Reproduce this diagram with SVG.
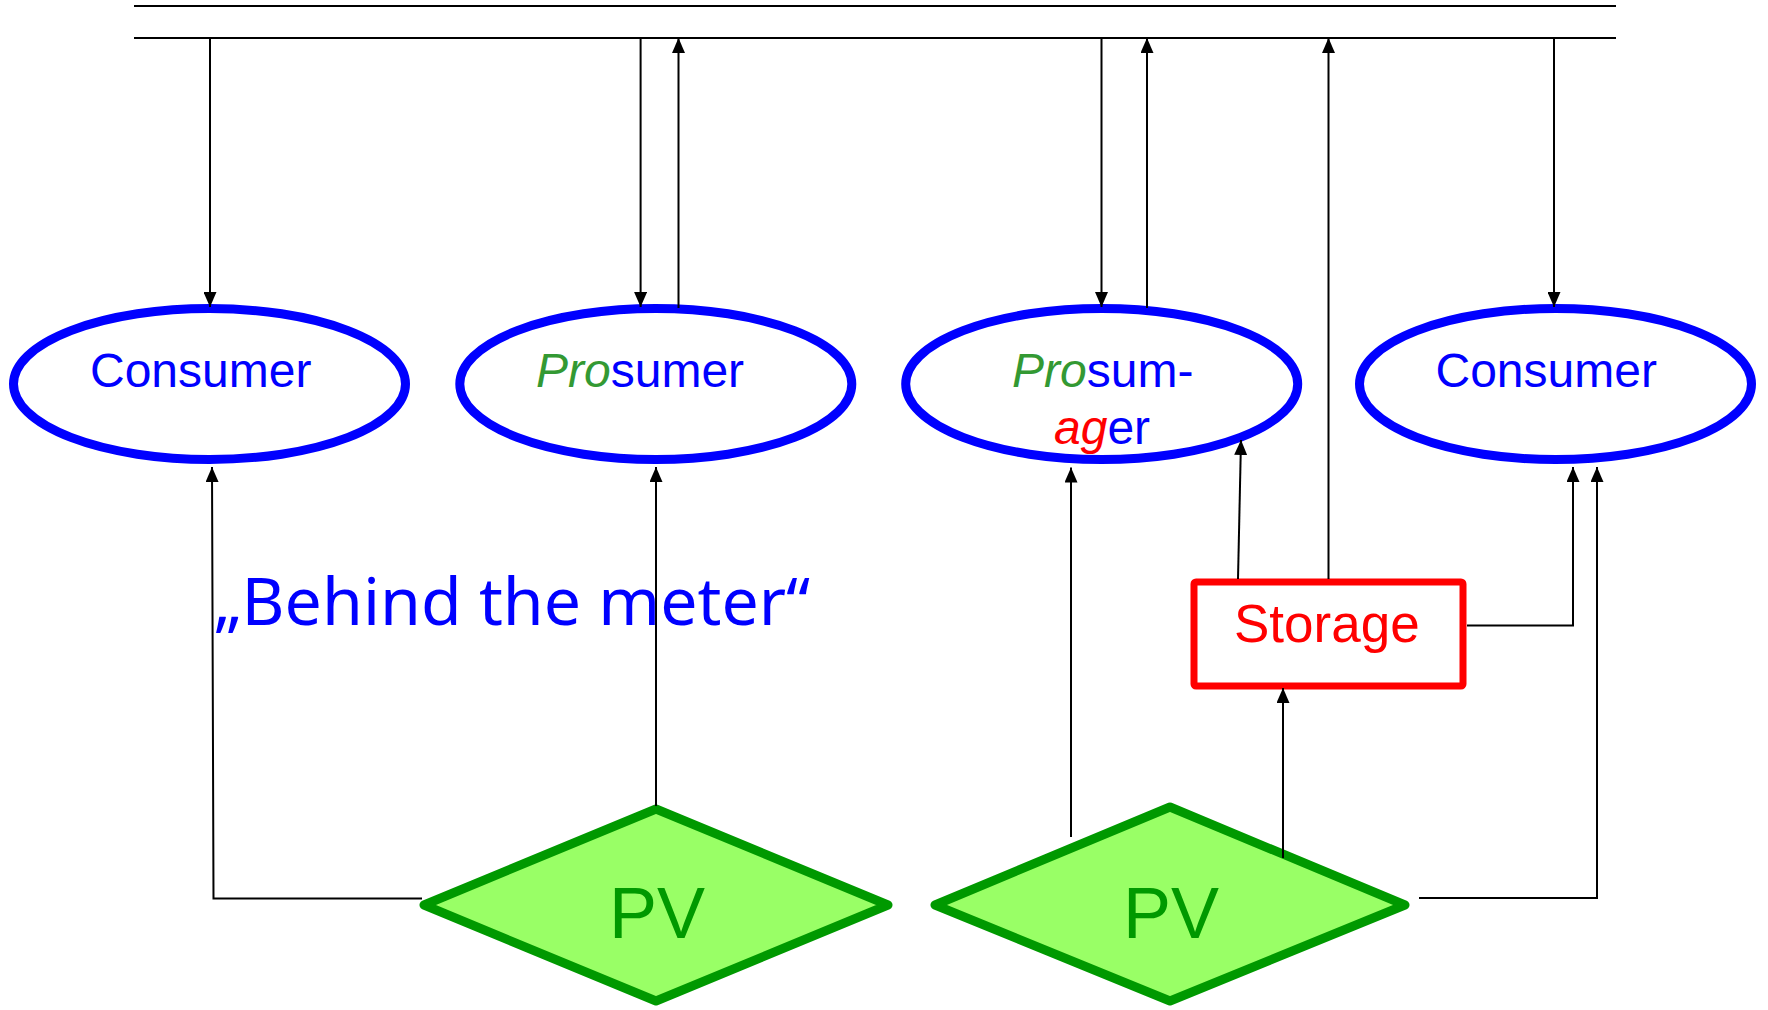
<svg xmlns="http://www.w3.org/2000/svg" width="1768" height="1010" viewBox="0 0 1768 1010">
<style>
.ell{fill:#ffffff;stroke:#0000ff;stroke-width:9}
.lbl{font-family:"Liberation Sans",Arial,sans-serif;font-size:48px;fill:#0000ff}
.pro{fill:#339933;font-style:italic}
.ag{fill:#ff0000;font-style:italic}
.pv{fill:#99ff66;stroke:#009900;stroke-width:9;stroke-linejoin:round}
.pvt{font-family:"Liberation Sans",Arial,sans-serif;font-size:72px;fill:#009900}
.con{fill:none;stroke:#000000;stroke-width:2}
.arr{marker-end:url(#ah)}
</style>
<defs>
<marker id="ah" markerUnits="userSpaceOnUse" markerWidth="15" markerHeight="13" refX="15" refY="6.5" orient="auto">
<path d="M0,0 L15,6.5 L0,13 z" fill="#000000"/>
</marker>
</defs>
<rect width="1768" height="1010" fill="#ffffff"/>
<g id="grid">
<line x1="134" y1="6" x2="1616" y2="6" class="con"/>
<line x1="134" y1="38" x2="1616" y2="38" class="con"/>
</g>
<g id="consumer1">
<ellipse cx="209.5" cy="384" rx="196" ry="75.5" class="ell"/>
<text x="90" y="387" class="lbl">Consumer</text>
</g>
<g id="prosumer">
<ellipse cx="655.8" cy="384" rx="196" ry="75.5" class="ell"/>
<text x="536" y="387" class="lbl"><tspan class="pro">Pro</tspan>sumer</text>
</g>
<g id="prosumager">
<ellipse cx="1101.7" cy="384" rx="196" ry="75.5" class="ell"/>
<text x="1012" y="387" class="lbl"><tspan class="pro">Pro</tspan>sum-</text>
<text x="1054" y="444" class="lbl"><tspan class="ag">ag</tspan>er</text>
</g>
<g id="consumer2">
<ellipse cx="1555.5" cy="384" rx="196" ry="75.5" class="ell"/>
<text x="1435.5" y="387" class="lbl">Consumer</text>
</g>
<g id="storage">
<rect x="1194" y="582" width="269" height="104" rx="2" fill="#ffffff" stroke="#ff0000" stroke-width="7"/>
<text x="1234" y="642" font-family="Liberation Sans,Arial,sans-serif" font-size="53" fill="#ff0000">Storage</text>
</g>
<g id="pv1">
<polygon points="424,905 656,809 888,905 656,1001" class="pv"/>
<text x="657" y="938" text-anchor="middle" class="pvt">PV</text>
</g>
<g id="pv2">
<polygon points="935,905 1170,807 1405,905 1170,1001" class="pv"/>
<text x="1171" y="938" text-anchor="middle" class="pvt">PV</text>
</g>
<g id="note">
<text x="214" y="625" font-family="Noto Sans,DejaVu Sans,sans-serif" font-size="65" fill="#0000ff" textLength="596" lengthAdjust="spacingAndGlyphs">„Behind the meter“</text>
</g>
<g id="connectors">
<path d="M210,38 V307" class="con arr"/>
<path d="M640.6,38 V307" class="con arr"/>
<path d="M678.5,308 V38" class="con arr"/>
<path d="M1101.5,38 V307" class="con arr"/>
<path d="M1147,308 V38" class="con arr"/>
<path d="M1554,38 V307" class="con arr"/>
<path d="M422,898.5 H213.5 L212,467" class="con arr"/>
<path d="M656,806 V467" class="con arr"/>
<path d="M1071,837 V467.5" class="con arr"/>
<path d="M1283,858 V688" class="con arr"/>
<path d="M1238,579 L1241,440" class="con arr"/>
<path d="M1328.5,579 V38" class="con arr"/>
<path d="M1467,625.5 H1573 V467" class="con arr"/>
<path d="M1419,898 H1597 V467" class="con arr"/>
</g>
</svg>
